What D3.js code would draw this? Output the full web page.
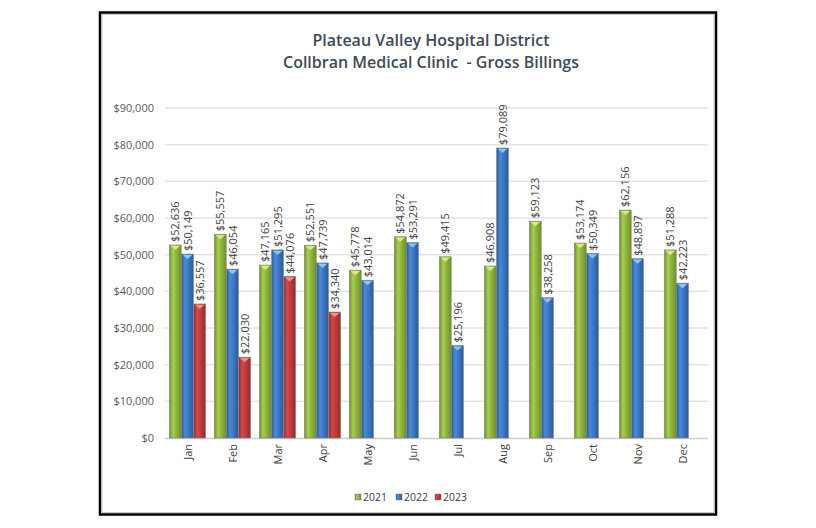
<!DOCTYPE html>
<html><head><meta charset="utf-8">
<script src="https://cdn.jsdelivr.net/npm/d3@7"></script>
<style>body{margin:0;background:#fff;} svg{display:block;font-family:"Open Sans",sans-serif;}</style>
</head><body>
<svg id="c" width="816" height="528"></svg>
<script>
const months = ["Jan","Feb","Mar","Apr","May","Jun","Jul","Aug","Sep","Oct","Nov","Dec"];
const seriesNames = ["2021","2022","2023"];
const v2021 = [52636,55557,47165,52551,45778,54872,49415,46908,59123,53174,62156,51288];
const v2022 = [50149,46054,51295,47739,43014,53291,25196,79089,38258,50349,48897,42223];
const v2023 = [36557,22030,44076,34340,null,null,null,null,null,null,null,null];
const yTicks = [0,10000,20000,30000,40000,50000,60000,70000,80000,90000];
const seriesValues = [v2021, v2022, v2023];
const colors = [
  {base:"#8cb43c", light:"#a9cf4f", dark:"#6f9128", cap:"#d7ec7a"},
  {base:"#3a76c2", light:"#4d8ad6", dark:"#2a5c9e", cap:"#8cc4f2"},
  {base:"#c0393b", light:"#d24a4a", dark:"#962a2c", cap:"#f28c8c"}
];

const svg = d3.select("#c");
const defs = svg.append("defs");
colors.forEach((c,i)=>{
  const g = defs.append("linearGradient").attr("id","g"+i).attr("x1","0").attr("x2","1").attr("y1","0").attr("y2","0");
  g.append("stop").attr("offset","0").attr("stop-color",c.dark);
  g.append("stop").attr("offset","0.3").attr("stop-color",c.light);
  g.append("stop").attr("offset","0.6").attr("stop-color",c.base);
  g.append("stop").attr("offset","1").attr("stop-color",c.dark);
});

// frame
svg.append("rect").attr("x",100).attr("y",12.5).attr("width",616).attr("height",502)
  .attr("fill","#fff").attr("stroke","#000").attr("stroke-width",2.5);
svg.append("rect").attr("x",102).attr("y",14.5).attr("width",612).attr("height",498)
  .attr("fill","none").attr("stroke","#c8c8c8").attr("stroke-width",1);

// title
const title = svg.append("text").attr("text-anchor","middle").attr("fill","#3f4a57")
  .style("font-size","16px").style("font-weight","600").style("white-space","pre");
title.append("tspan").attr("x",431).attr("y",46).text("Plateau Valley Hospital District");
title.append("tspan").attr("x",431).attr("y",68).text("Collbran Medical Clinic  - Gross Billings");

const x0 = d3.scaleBand().domain(months).range([165,705]);
const xs = d3.scaleBand().domain(seriesNames).range([0,37]).padding(0.04);
const y = d3.scaleLinear().domain([0,90000]).range([438,108]);

// gridlines
svg.append("g").selectAll("line").data(yTicks.slice(1)).join("line")
  .attr("x1",165).attr("x2",708).attr("y1",d=>y(d)).attr("y2",d=>y(d))
  .attr("stroke","#e3e3e3").attr("stroke-width",1.5);

// y axis labels
const yAxis = d3.axisLeft(y).tickValues(yTicks).tickSize(0).tickPadding(0)
  .tickFormat(d=>d3.format("$,")(d));
const ya = svg.append("g").attr("transform","translate(154,0)").call(yAxis);
ya.select(".domain").remove();
ya.selectAll("text").attr("fill","#595959").style("font-size","11px").style("font-family","'Open Sans',sans-serif");

// x axis line
svg.append("line").attr("x1",165).attr("x2",708).attr("y1",438.5).attr("y2",438.5)
  .attr("stroke","#d0d0d0").attr("stroke-width",1.5);

// bars
const bars = [];
seriesValues.forEach((vals,si)=>{
  vals.forEach((v,mi)=>{ if(v!=null) bars.push({m:months[mi],s:seriesNames[si],si,v}); });
});
const gx = m => x0(m) + x0.bandwidth()/2 - 18.5;
const bg = svg.append("g");
bars.forEach(b=>{
  const bx = gx(b.m) + xs(b.s), bw = xs.bandwidth();
  const top = y(b.v);
  bg.append("rect").attr("x",bx).attr("y",top).attr("width",bw).attr("height",y(0)-top)
    .attr("fill","url(#g"+b.si+")").attr("stroke","#7a7a7a").attr("stroke-width",0.6);
  bg.append("path").attr("d",`M${bx+1},${top+0.8}L${bx+bw-1},${top+0.8}L${bx+bw/2},${top+5}Z`)
    .attr("fill",colors[b.si].cap);
  svg.append("text").attr("transform",`translate(${bx+bw/2+4},${top-3}) rotate(-90)`)
    .attr("fill","#404040").style("font-size","11px").text(d3.format("$,")(b.v));
});

// month labels
months.forEach(m=>{
  svg.append("text").attr("transform",`translate(${x0(m)+x0.bandwidth()/2+4},444) rotate(-90)`)
    .attr("text-anchor","end").attr("fill","#404040").style("font-size","11px").text(m);
});

// legend
const lg = svg.append("g");
const legX = [355,396,435];
seriesNames.forEach((s,i)=>{
  lg.append("rect").attr("x",legX[i]).attr("y",494).attr("width",6).attr("height",6)
    .attr("fill","url(#g"+i+")").attr("stroke","#777").attr("stroke-width",0.5);
  lg.append("text").attr("x",legX[i]+8).attr("y",500.5).attr("fill","#404040")
    .style("font-size","10.5px").text(s);
});
</script>
</body></html>
